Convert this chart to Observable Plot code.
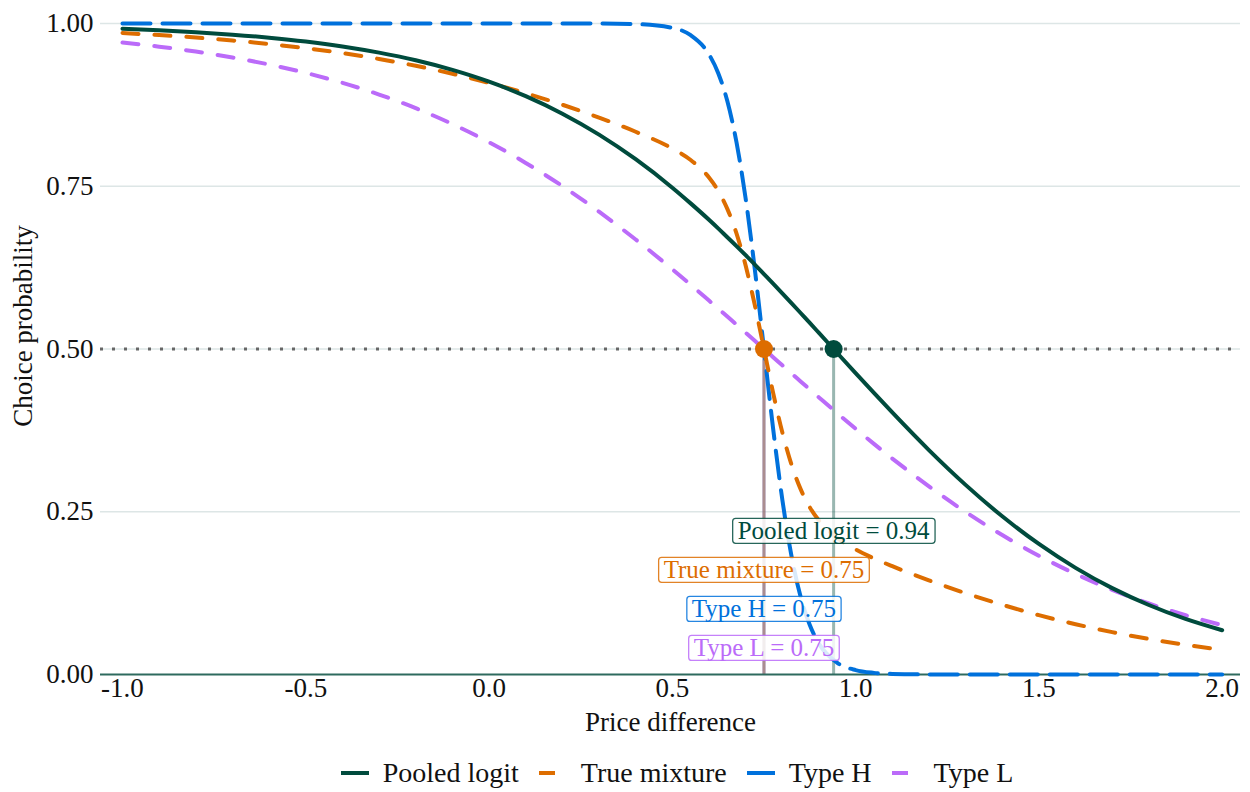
<!DOCTYPE html>
<html><head><meta charset="utf-8">
<script src="https://cdn.jsdelivr.net/npm/d3@7"></script>
<script src="https://cdn.jsdelivr.net/npm/@observablehq/plot@0.6"></script>
<style>
body{margin:0;background:#fff;font-family:"Liberation Serif",serif;}
#legend{display:flex;justify-content:center;align-items:center;height:42px;padding-left:104px;font-size:28px;color:#111;}
.item{display:flex;align-items:center;margin:0 10px;}
.item svg{margin-right:14px;}
</style></head><body>
<div id="chart"></div><div id="legend"></div>
<script>
// ---- data ----
const priceDiff = [-1.0,-0.9,-0.8,-0.7,-0.6,-0.5,-0.4,-0.3,-0.2,-0.1,0.0,0.1,0.2,0.3,0.4,
  0.5,0.55,0.6,0.625,0.65,0.675,0.7,0.725,0.75,0.775,0.8,0.825,0.85,0.875,0.9,0.95,1.0,1.05,1.1,
  1.2,1.3,1.4,1.5,1.6,1.7,1.8,1.9,2.0];
const pooledLogit = [0.992,0.9895,0.9866,0.9829,0.9782,0.9723,0.9648,0.9553,0.9435,0.9288,0.9107,0.8884,0.8615,0.8293,0.7915,
  0.7478,0.7237,0.6985,0.6853,0.6717,0.6581,0.6441,0.6297,0.6151,0.6005,0.5856,0.5705,0.5553,0.5401,0.5247,0.4938,0.4630,0.4325,0.4025,
  0.3447,0.2913,0.2430,0.2005,0.1638,0.1327,0.1068,0.0854,0.0680];
const trueMixture = [0.9854,0.9822,0.9785,0.9739,0.9685,0.9621,0.9545,0.9455,0.9350,0.9228,0.9088,0.8929,0.8752,0.8555,0.8337,
  0.8079,0.7904,0.7635,0.7432,0.7153,0.6776,0.6281,0.5675,0.5,0.4325,0.3720,0.3225,0.2847,0.2569,0.2365,0.2097,0.1921,0.1784,0.1664,
  0.1446,0.1249,0.1071,0.0912,0.0773,0.0651,0.0546,0.0456,0.0380];
const typeH = [1,1,1,1,1,1,1,1,1,1,1,1,1,0.9999,0.9991,
  0.9933,0.9820,0.9526,0.9241,0.8808,0.8176,0.7311,0.6225,0.5,0.3775,0.2689,0.1824,0.1192,0.0759,0.0474,0.0180,0.0067,0.0025,0.0009,
  0.0001,0,0,0,0,0,0,0,0];
const typeL = [0.9707,0.9644,0.9569,0.9478,0.9370,0.9241,0.9089,0.8909,0.8699,0.8455,0.8176,0.7858,0.7503,0.7109,0.6682,
  0.6225,0.5987,0.5744,0.5622,0.5498,0.5375,0.5250,0.5125,0.5,0.4875,0.4750,0.4625,0.4502,0.4378,0.4256,0.4013,0.3775,0.3543,0.3318,
  0.2891,0.2497,0.2142,0.1824,0.1545,0.1301,0.1091,0.0911,0.0759];

const seriesNames = ["Pooled logit","True mixture","Type H","Type L"];
const seriesValues = [pooledLogit,trueMixture,typeH,typeL];
const seriesColors = ["#004B3D","#DD6D00","#0071DC","#BB6BF9"];
const seriesDash = [null,"16,16","28,12","16,16"];
const drawOrder = [3,2,1,0];

// price difference at which each curve crosses 0.5
const crossSeries = [3,2,1,0];
const crossX = [0.75,0.75,0.75,0.94];
const crossLabelY = [0.04,0.10,0.16,0.22];
const crossPointSeries = [1,0];

const xTicks = [-1,-0.5,0,0.5,1,1.5,2];
const yTicks = [0,0.25,0.5,0.75,1];

// ---- build tables ----
const lineTables = seriesNames.map((n,s) => priceDiff.map((x,i) => ({x, y: seriesValues[s][i]})));
const crossRows = crossSeries.map((s,i) => ({x: crossX[i], ly: crossLabelY[i], color: seriesColors[s],
  text: `${seriesNames[s]} = ${crossX[i].toFixed(2)}`, s}));
const pointRows = crossPointSeries.map(s => crossRows.find(r => r.s === s));

const marks = [
  Plot.ruleY(yTicks.filter(d => d > 0), {stroke: "#dde6e6", strokeWidth: 1.5}),
  Plot.ruleY([0.5], {stroke: "#666", strokeDasharray: "3,9", strokeWidth: 3}),
  Plot.ruleX(crossRows, {x: "x", y1: 0, y2: 0.5, stroke: "color", strokeOpacity: 0.4, strokeWidth: 3}),
  Plot.ruleY([0], {stroke: "#2e6a5e", strokeWidth: 2}),
];
drawOrder.forEach(s => {
  marks.push(Plot.line(lineTables[s], {x: "x", y: "y", stroke: seriesColors[s], strokeWidth: 4,
    strokeDasharray: seriesDash[s] || undefined, curve: "monotone-x"}));
});
marks.push(Plot.dot(pointRows, {x: "x", y: 0.5, r: 9, fill: "color"}));
marks.push(Plot.text(crossRows, {x: "x", y: "ly", text: "text", fill: "color", fontSize: 25}));
marks.push(Plot.axisX(xTicks, {tickSize: 0, tickPadding: 3, tickFormat: d => d.toFixed(1), fontSize: 27,
  label: "Price difference", labelAnchor: "center", labelOffset: 56, labelArrow: "none"}));
marks.push(Plot.axisY(yTicks, {tickSize: 0, tickPadding: 7, tickFormat: d => d.toFixed(2), fontSize: 27,
  label: "Choice probability", labelAnchor: "center", labelOffset: 88, labelArrow: "none"}));

const svg = Plot.plot({
  width: 1250, height: 752,
  marginLeft: 100, marginRight: 10, marginTop: 23, marginBottom: 78,
  x: {domain: [-1.06, 2.05]},
  y: {domain: [0, 1]},
  color: {type: "identity"},
  style: {fontFamily: "Liberation Serif", fontSize: "27px", color: "#111", background: "#fff"},
  marks
});
document.getElementById("chart").appendChild(svg);

// boxes behind the crossing labels
const labelTexts = new Set(crossRows.map(r => r.text));
svg.querySelectorAll("text").forEach(t => {
  if (!labelTexts.has(t.textContent)) return;
  const row = crossRows.find(r => r.text === t.textContent);
  const b = t.getBBox();
  const r = document.createElementNS("http://www.w3.org/2000/svg", "rect");
  r.setAttribute("x", b.x - 5); r.setAttribute("y", b.y + 1);
  r.setAttribute("width", b.width + 10); r.setAttribute("height", b.height - 2);
  r.setAttribute("rx", 3);
  if (t.getAttribute("transform")) r.setAttribute("transform", t.getAttribute("transform"));
  r.setAttribute("fill", "#fff"); r.setAttribute("fill-opacity", 0.85);
  r.setAttribute("stroke", row.color); r.setAttribute("stroke-opacity", 0.85); r.setAttribute("stroke-width", 1.3);
  t.parentNode.insertBefore(r, t);
});
// shift y-axis title as in the reference
svg.querySelectorAll("text").forEach(t => {
  if (t.textContent === "Choice probability") {
    const p = t.parentNode;
    p.setAttribute("transform", ((p.getAttribute("transform") || "") + " translate(0,-23)").trim());
  }
});

// legend
const legend = document.getElementById("legend");
seriesNames.forEach((n, i) => {
  const item = document.createElement("div");
  item.className = "item";
  item.innerHTML = `<svg width="28" height="10"><line x1="0" x2="28" y1="5" y2="5" stroke="${seriesColors[i]}" stroke-width="4" ${seriesDash[i] ? `stroke-dasharray="${seriesDash[i]}"` : ""}/></svg><span>${n}</span>`;
  legend.appendChild(item);
});
</script></body></html>
